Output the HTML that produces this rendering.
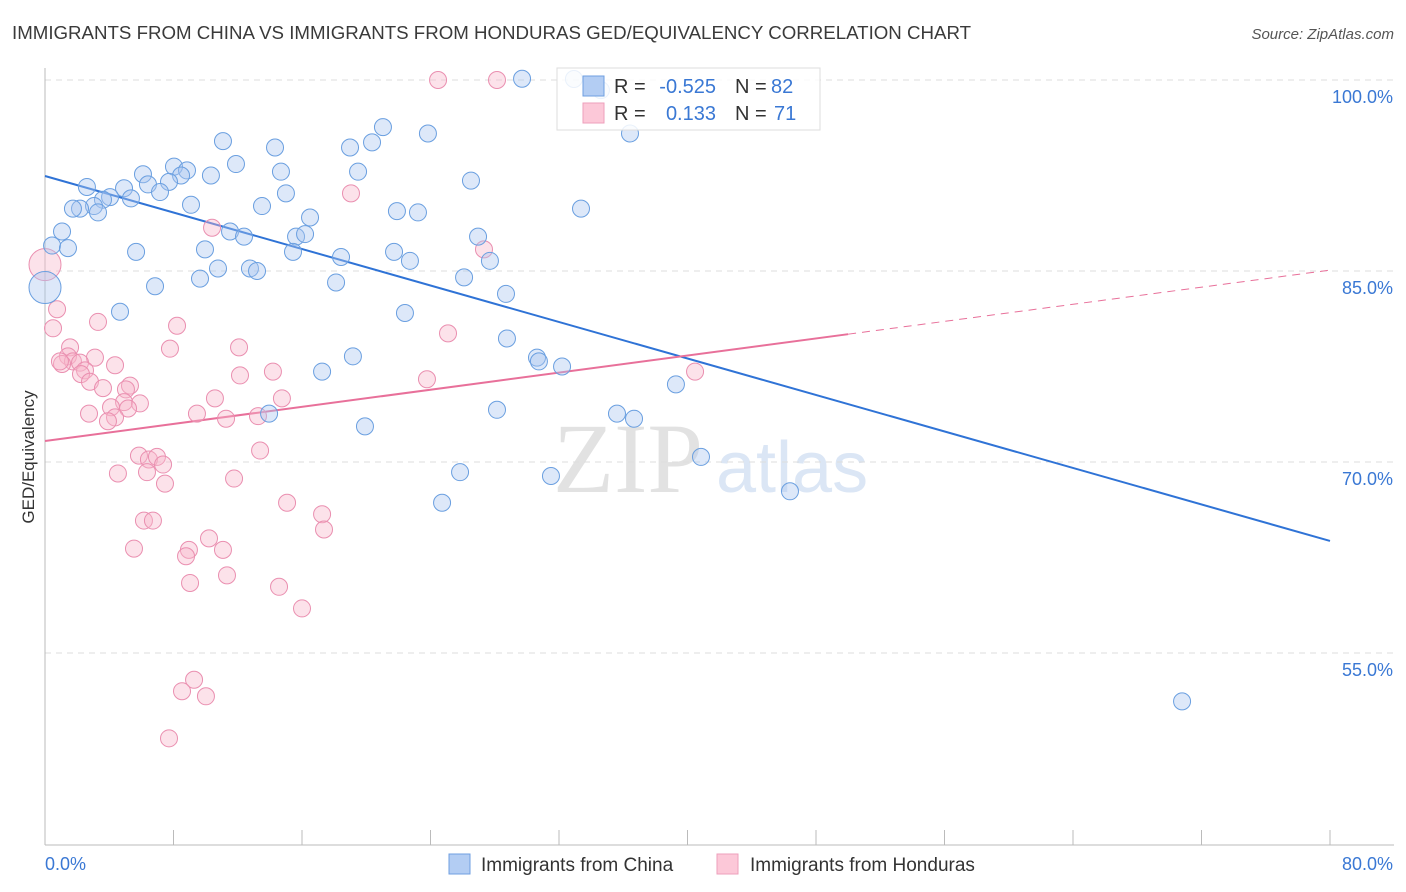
<!DOCTYPE html>
<html><head><meta charset="utf-8"><style>
body{margin:0;background:#fff;font-family:"Liberation Sans",sans-serif}
svg{display:block}
</style></head><body>
<svg id="chart" width="1406" height="892">
<text x="12" y="39" font-size="18.7" fill="#3a3a3a">IMMIGRANTS FROM CHINA VS IMMIGRANTS FROM HONDURAS GED/EQUIVALENCY CORRELATION CHART</text>
<text x="1394" y="39" font-size="15" fill="#555" text-anchor="end" font-style="italic">Source: ZipAtlas.com</text>
<text transform="translate(34,457) rotate(-90)" font-size="17" fill="#333" text-anchor="middle">GED/Equivalency</text>
<g><text x="553" y="492" font-family="Liberation Serif,serif" font-size="100" fill="#e2e2e2">ZIP</text><text x="716" y="492" font-size="72" fill="#dbe6f5">atlas</text></g>
<g id="grid"></g><g id="axes"></g><g id="trend"></g><g id="pts"></g>
<g>
<rect x="557" y="68" width="263" height="62" fill="#fff" fill-opacity="0.85" stroke="#ddd"/>
<rect x="583" y="76" width="21" height="20" fill="#b3cdf3" stroke="#6f9fe0"/>
<rect x="583" y="103" width="21" height="20" fill="#fcc8d8" stroke="#ee9fbb"/>
<text x="614" y="93" font-size="20" fill="#333">R = </text><text x="716" y="93" font-size="20" fill="#3a78d4" text-anchor="end">-0.525</text>
<text x="735" y="93" font-size="20" fill="#333">N =</text><text x="771" y="93" font-size="20" fill="#3a78d4">82</text>
<text x="614" y="120" font-size="20" fill="#333">R = </text><text x="716" y="120" font-size="20" fill="#3a78d4" text-anchor="end">0.133</text>
<text x="735" y="120" font-size="20" fill="#333">N =</text><text x="774" y="120" font-size="20" fill="#3a78d4">71</text>
</g>
<g>
<rect x="449" y="854" width="21" height="20" fill="#b3cdf3" stroke="#6f9fe0"/>
<text x="481" y="871" font-size="19" fill="#333">Immigrants from China</text>
<rect x="717" y="854" width="21" height="20" fill="#fcc8d8" stroke="#ee9fbb"/>
<text x="750" y="871" font-size="19" fill="#333">Immigrants from Honduras</text>
</g>
</svg>
<script>
const yTicks=[100,85,70,55];
const xTickLabels=["0.0%","80.0%"];
const blueX=[32.93,29.7,34.61,36.42,23.84,21.04,20.36,18.99,11.08,14.32,11.89,8.03,8.84,6.1,8.47,7.72,10.33,14.69,19.49,26.52,2.61,4.92,6.41,7.16,5.35,4.05,3.61,3.05,2.18,1.74,3.3,9.09,13.51,15,16.5,21.91,23.22,33.37,1.06,0.44,1.43,11.52,12.39,15.63,16.19,9.96,5.67,15.44,18.43,21.73,22.72,26.96,27.7,10.77,12.76,13.2,9.65,6.85,18.12,26.09,28.7,0,4.67,22.41,28.76,19.17,30.63,30.75,32.19,17.25,39.28,28.14,13.95,35.61,36.67,19.92,40.84,25.84,31.5,24.72,46.38,70.79];
const blueY=[100.08,100.1,99.2,95.8,95.8,96.3,95.1,94.7,95.2,94.7,93.4,93.2,92.9,92.6,92.5,92,92.5,92.8,92.8,92.1,91.6,91.5,91.8,91.2,90.7,90.8,90.6,90.1,89.9,89.9,89.6,90.2,90.1,91.1,89.2,89.7,89.6,89.9,88.1,87,86.8,88.1,87.7,87.7,87.9,86.7,86.5,86.5,86.1,86.5,85.8,87.7,85.8,85.2,85.2,85,84.4,83.8,84.1,84.5,83.2,83.7,81.8,81.7,79.7,78.3,78.2,77.9,77.5,77.1,76.1,74.1,73.8,73.8,73.4,72.8,70.4,69.2,68.9,66.8,67.7,51.2];
const pinkX=[24.47,28.14,19.05,10.4,27.33,0,0.75,0.5,3.3,8.22,25.09,7.78,12.08,1.56,1.43,3.11,1.74,1.06,2.18,2.49,2.24,14.19,12.14,23.78,40.47,2.8,3.61,5.29,5.04,10.58,14.75,4.92,5.91,4.11,5.17,9.46,2.74,4.36,3.92,11.27,13.26,13.39,5.85,6.47,6.97,7.35,4.54,6.35,7.47,11.77,15.07,17.25,17.37,6.16,6.72,10.21,8.96,8.78,11.08,5.54,11.33,9.03,14.57,16,9.28,8.53,10.02,7.72,0.93,4.36];
const pinkY=[100,100,91.1,88.4,86.7,85.5,82,80.5,81,80.7,80.1,78.9,79,79,78.3,78.2,77.9,77.7,77.8,77.2,76.9,77.1,76.8,76.5,77.1,76.3,75.8,76,75.7,75,75,74.7,74.6,74.3,74.2,73.8,73.8,73.5,73.2,73.4,73.6,70.9,70.5,70.2,70.4,69.8,69.1,69.2,68.3,68.7,66.8,65.9,64.7,65.4,65.4,64,63.1,62.6,63.1,63.2,61.1,60.5,60.2,58.5,52.9,52,51.6,48.3,77.9,77.6];
const blueTrend=[92.46,63.8];
const pinkTrend=[71.65,85.07];
const pinkSolidEnd=50;
const NS="http://www.w3.org/2000/svg";
const X0=45,X1=1330,Y100=80,PXPER=191/15;
const sx=v=>X0+(X1-X0)*v/80;
const sy=v=>Y100+(100-v)*PXPER;
function mk(tag,attrs,parent){const e=document.createElementNS(NS,tag);for(const k in attrs)e.setAttribute(k,attrs[k]);document.getElementById(parent).appendChild(e);return e;}
yTicks.forEach(t=>{
 const l=mk('line',{x1:X0,x2:1394,y1:sy(t),y2:sy(t),stroke:'#ddd','stroke-dasharray':'6,5'},'grid');
 
 
 const tx=mk('text',{x:1393,y:sy(t)+23,'font-size':18,fill:'#3a78d4','text-anchor':'end'},'grid');
 tx.textContent=t.toFixed(1)+'%';
 
 
});
const ax=mk('line',{x1:X0,x2:1394,y1:845,y2:845,stroke:'#bbb'},'axes');


const ay=mk('line',{x1:X0,x2:X0,y1:68,y2:845,stroke:'#bbb'},'axes');


for(let i=0;i<=10;i++){
 const t=mk('line',{x1:sx(i*8),x2:sx(i*8),y1:830,y2:845,stroke:'#bbb'},'axes');
 
 
}
[[0,xTickLabels[0],'start',45],[80,xTickLabels[1],'end',1393]].forEach(([v,s,a,x])=>{
 const t=mk('text',{x:x,y:870,'font-size':18,fill:'#3a78d4','text-anchor':a},'axes');
 t.textContent=s;
 
 
});
function pts(xs,ys,fill,stroke,name){
 xs.forEach((x,i)=>{
  const c=mk('circle',{cx:sx(x),cy:sy(ys[i]),r:x===0?16:8.5,fill:fill,'fill-opacity':0.4,stroke:stroke,'stroke-width':1},'pts');
  
  
 });
}
pts(pinkX,pinkY,'#f7b6cb','#ea8fb0','honduras-point');
pts(blueX,blueY,'#a9c6f0','#6a9fe0','china-point');
const bt=mk('line',{x1:sx(0),y1:sy(blueTrend[0]),x2:sx(80),y2:sy(blueTrend[1]),stroke:'#2f73d6','stroke-width':2},'trend');


const pm=pinkTrend[0]+(pinkTrend[1]-pinkTrend[0])*pinkSolidEnd/80;
const pt=mk('line',{x1:sx(0),y1:sy(pinkTrend[0]),x2:sx(pinkSolidEnd),y2:sy(pm),stroke:'#e8709a','stroke-width':2},'trend');


const pd=mk('line',{x1:sx(pinkSolidEnd),y1:sy(pm),x2:sx(80),y2:sy(pinkTrend[1]),stroke:'#e8709a','stroke-width':1,'stroke-dasharray':'8,6'},'trend');


</script>
</body></html>
